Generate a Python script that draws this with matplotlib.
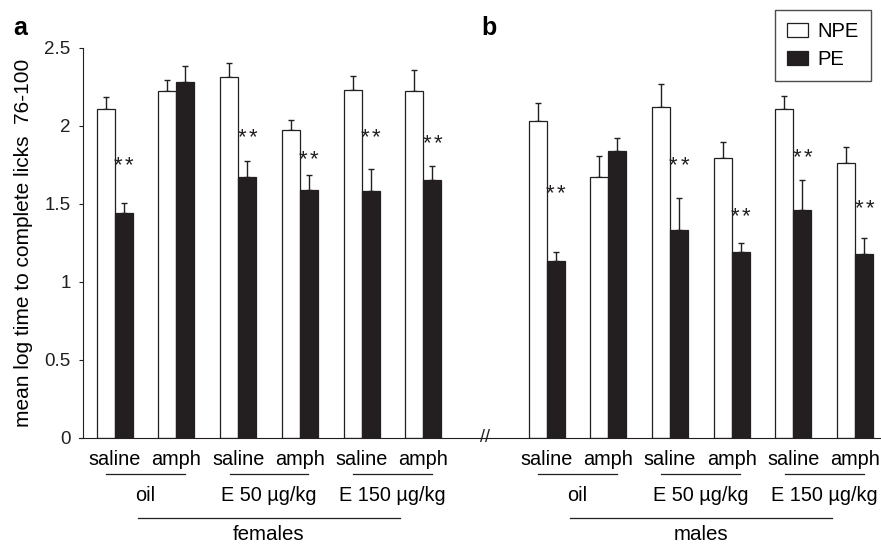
import numpy as np
import matplotlib.pyplot as plt
import matplotlib.patches as mpatches

plt.rcParams['font.family'] = ['Liberation Sans', 'DejaVu Sans']

# panel a (females) and panel b (males), pairs: oil, E50, E150 x saline/amph
npe_a = [2.11, 2.22, 2.31, 1.97, 2.23, 2.22]
npe_a_err = [0.075, 0.07, 0.09, 0.065, 0.09, 0.135]
pe_a = [1.44, 2.28, 1.67, 1.59, 1.58, 1.65]
pe_a_err = [0.065, 0.10, 0.105, 0.095, 0.14, 0.09]
star_a = [1.79, None, 1.97, 1.83, 1.97, 1.93]

npe_b = [2.03, 1.67, 2.12, 1.79, 2.11, 1.76]
npe_b_err = [0.115, 0.135, 0.145, 0.105, 0.08, 0.105]
pe_b = [1.13, 1.84, 1.33, 1.19, 1.46, 1.18]
pe_b_err = [0.06, 0.08, 0.205, 0.06, 0.19, 0.10]
star_b = [1.61, None, 1.79, 1.46, 1.84, 1.51]

drugs = ['saline', 'amph'] * 3
hormones = ['oil', 'E 50 \u00b5g/kg', 'E 150 \u00b5g/kg']
sexes = ['females', 'males']

pos_a = np.arange(6)
pos_b = np.arange(7, 13)
w = 0.292
dark = '#231f20'

fig = plt.figure(figsize=(8.81, 5.45), dpi=100)
ax = fig.add_axes([83 / 881, 0.1969, 1 - 83 / 881, 0.7156])
tr = ax.get_xaxis_transform()

panels = [(pos_a, npe_a, npe_a_err, pe_a, pe_a_err, star_a, sexes[0]),
          (pos_b, npe_b, npe_b_err, pe_b, pe_b_err, star_b, sexes[1])]
for pos, npe, npe_err, pe, pe_err, stars, sex in panels:
    ax.bar(pos - w / 2, npe, w, color='white', edgecolor=dark, linewidth=0.9, zorder=2)
    ax.bar(pos + w / 2, pe, w, color=dark, edgecolor=dark, linewidth=0.9, zorder=2)
    ax.errorbar(pos - w / 2, npe, yerr=[np.zeros(6), npe_err], fmt='none', ecolor=dark,
                elinewidth=1.0, capsize=2.0, capthick=1.0, zorder=1)
    ax.errorbar(pos + w / 2, pe, yerr=[np.zeros(6), pe_err], fmt='none', ecolor=dark,
                elinewidth=1.0, capsize=2.0, capthick=1.0, zorder=1)
    # significance stars, two separate asterisks
    for p, s in zip(pos, stars):
        if s is not None:
            for dx in (-4.0, 4.0):
                ax.annotate('*', (p + w / 2, s), xytext=(dx, -9), textcoords='offset points',
                            ha='center', va='baseline', fontsize=16, color=dark)

    # category labels under the axis
    for p, d in zip(pos, drugs):
        ax.text(p, -0.070, d, transform=tr, ha='center', va='baseline', fontsize=14.3)
    mids = pos[::2] + 0.5
    for m, h in zip(mids, hormones):
        ax.plot([m - 0.64, m + 0.64], [-0.093, -0.093], transform=tr, color=dark,
                lw=0.9, clip_on=False)
        ax.text(m, -0.162, h, transform=tr, ha='center', va='baseline', fontsize=14.3)
    c = pos.mean()
    ax.plot([c - 2.12, c + 2.12], [-0.205, -0.205], transform=tr, color=dark,
            lw=0.9, clip_on=False)
    ax.text(c, -0.262, sex, transform=tr, ha='center', va='baseline', fontsize=14.8)

# axis break marker
ax.text(6, 0, '//', ha='center', va='center', fontsize=13, color=dark, zorder=3)

ax.set_xlim(-0.515, 12.42)
ax.set_ylim(0, 2.5)
ax.set_yticks([0, 0.5, 1, 1.5, 2, 2.5])
ax.set_yticklabels(['0', '0.5', '1', '1.5', '2', '2.5'])
ax.set_xticks([])
ax.tick_params(axis='y', length=3, width=0.8, pad=6, labelsize=13.5, colors=dark)
for side in ['top', 'right']:
    ax.spines[side].set_visible(False)
for side in ['left', 'bottom']:
    ax.spines[side].set_linewidth(0.8)
    ax.spines[side].set_color(dark)
ax.spines['bottom'].set_bounds(-0.58, 12.42)

fig.text(24 / 881, 1 - 242.7 / 545, 'mean log time to complete licks  76-100', rotation=90,
         ha='center', va='center', fontsize=15)

fig.text(13 / 881, 1 - 35 / 545, 'a', fontsize=18, fontweight='bold', va='baseline')
fig.text(481 / 881, 1 - 35 / 545, 'b', fontsize=18, fontweight='bold', va='baseline')

h1 = mpatches.Patch(facecolor='white', edgecolor=dark, linewidth=0.9, label='NPE')
h2 = mpatches.Patch(facecolor=dark, edgecolor=dark, linewidth=0.9, label='PE')
leg = fig.legend(handles=[h1, h2], loc='upper right', bbox_to_anchor=(871 / 881, 1 - 10 / 545),
                 fontsize=14.5, frameon=True, fancybox=False, borderaxespad=0,
                 handlelength=1.0, handleheight=0.75, handletextpad=0.5, labelspacing=0.45,
                 borderpad=0.6)
leg.get_frame().set_edgecolor(dark)
leg.get_frame().set_linewidth(1.0)

fig.savefig('out.png', dpi=100)
